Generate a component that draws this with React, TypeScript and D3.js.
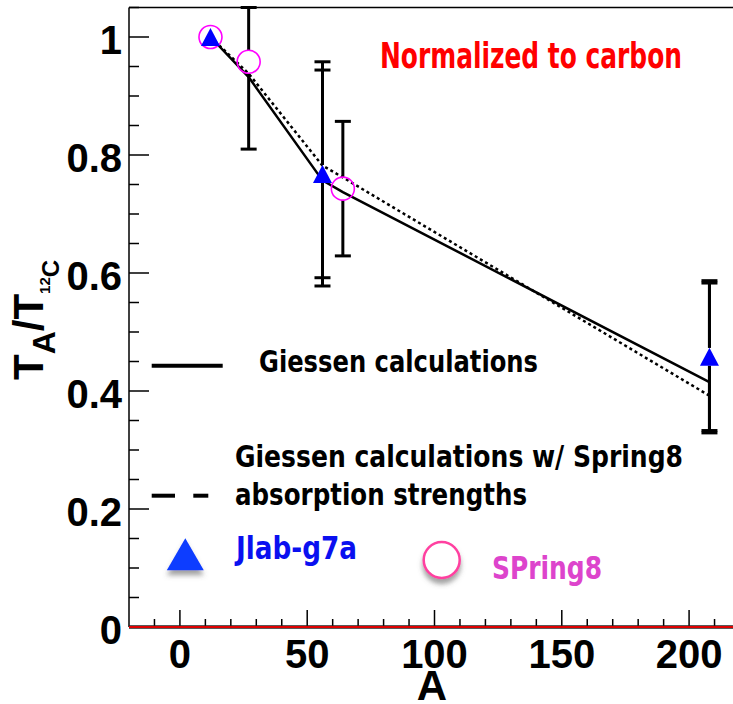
import React from "react";
import * as d3 from "d3";

// Transparency ratio T_A / T_12C versus mass number A
const W = 733;
const H = 704;

// Jlab-g7a measurements (filled triangles), two error components each
const jlabA = [12, 56, 208];
const jlabT = [1.0, 0.768, 0.458];
const jlabErrInner = [0, 0.176, 0.125];
const jlabErrOuter = [0, 0.19, 0.129];

// SPring8 measurements (open circles), asymmetric errors
const spring8A = [12, 27, 64];
const spring8T = [1.0, 0.958, 0.743];
const spring8ErrLo = [0, 0.148, 0.114];
const spring8ErrHi = [0, 0.092, 0.114];

// Giessen calculations
const giessenA = [12, 27, 56, 64, 208];
const giessenT = [1.0, 0.932, 0.757, 0.737, 0.415];
const giessenSp8T = [1.0, 0.938, 0.782, 0.762, 0.392];

// Axis ticks
const xMajorTicks = [0, 50, 100, 150, 200];
const yMajorTicks = [0, 0.2, 0.4, 0.6, 0.8, 1];
const yTickLabels = ["0", "0.2", "0.4", "0.6", "0.8", "1"];

const X0 = 129;
const X1 = 740;
const Y0 = 627;
const Y1 = 7.5;

const x = d3.scaleLinear().domain([-20, 220]).range([X0, X1]);
const y = d3.scaleLinear().domain([0, 1.05]).range([Y0, Y1]);

const AXIS_FONT = "'Liberation Sans', Arial, Helvetica, sans-serif";
const HAND_FONT = "'DejaVu Sans Condensed', 'Liberation Sans Narrow', 'DejaVu Sans', sans-serif";

function ErrorBar({ cx, cy, lo, hi, gap }: { cx: number; cy: number; lo: number; hi: number; gap: number }) {
  const yTop = y(Math.min(hi, 1.05));
  const yBot = y(Math.max(lo, 0));
  return (
    <g stroke="#000" strokeWidth={3}>
      {yTop < cy - gap && <line x1={cx} x2={cx} y1={yTop} y2={cy - gap} />}
      {yBot > cy + gap && <line x1={cx} x2={cx} y1={cy + gap} y2={yBot} />}
      <line x1={cx - 8} x2={cx + 8} y1={yTop} y2={yTop} />
      <line x1={cx - 8} x2={cx + 8} y1={yBot} y2={yBot} />
    </g>
  );
}

function triPath(cx: number, cy: number, w: number, h: number) {
  return `M${cx - w / 2},${cy + h / 2}L${cx + w / 2},${cy + h / 2}L${cx},${cy - h / 2}Z`;
}

export default function App() {
  const lineGen = d3
    .line<[number, number]>()
    .x((d) => x(d[0]))
    .y((d) => y(d[1]));

  const solidPts = giessenA.map((a, i) => [a, giessenT[i]] as [number, number]);
  const dottedPts = giessenA.map((a, i) => [a, giessenSp8T[i]] as [number, number]);

  const xMinor = d3.range(-10, 221, 10).filter((v) => v % 50 !== 0);
  const yMinor = d3.range(0.05, 1.051, 0.05).filter((v) => Math.abs(v / 0.2 - Math.round(v / 0.2)) > 1e-6);

  return (
    <svg
      width={W}
      height={H}
      viewBox={`0 0 ${W} ${H}`}
      style={{ position: "absolute", left: 0, top: 0, background: "#fff" }}
    >
      <defs>
        <filter id="shadow" x="-50%" y="-50%" width="200%" height="220%">
          <feDropShadow dx="0" dy="5" stdDeviation="2.5" floodColor="#555" floodOpacity="0.55" />
        </filter>
      </defs>
      <rect x={0} y={0} width={W} height={H} fill="#fff" />

      {/* frame */}
      <line x1={X0} x2={X0} y1={Y1} y2={Y0} stroke="#000" strokeWidth={1.5} />
      <line x1={X0} x2={X1} y1={Y1} y2={Y1} stroke="#000" strokeWidth={1.5} />

      {/* y ticks */}
      <g stroke="#000" strokeWidth={1.5}>
        {yMajorTicks.map((v) => (
          <line key={"ym" + v} x1={X0} x2={X0 + 20} y1={y(v)} y2={y(v)} />
        ))}
        {yMinor.map((v) => (
          <line key={"yn" + v} x1={X0} x2={X0 + 10} y1={y(v)} y2={y(v)} />
        ))}
      </g>
      <g fontFamily={AXIS_FONT} fontWeight="bold" fontSize={40} textAnchor="end">
        {yMajorTicks.map((v, i) => (
          <text key={"yl" + v} x={122} y={y(v) + 17}>
            {yTickLabels[i]}
          </text>
        ))}
      </g>

      {/* x ticks */}
      <g stroke="#000" strokeWidth={1.5}>
        {xMajorTicks.map((v) => (
          <line key={"xm" + v} x1={x(v)} x2={x(v)} y1={Y0} y2={Y0 - 17} />
        ))}
        {xMinor.map((v) => (
          <line key={"xn" + v} x1={x(v)} x2={x(v)} y1={Y0} y2={Y0 - 8} />
        ))}
      </g>
      <g fontFamily={AXIS_FONT} fontWeight="bold" fontSize={40} textAnchor="middle">
        {xMajorTicks.map((v) => (
          <text key={"xl" + v} x={x(v)} y={668}>
            {v}
          </text>
        ))}
      </g>

      {/* x = 0 baseline */}
      <line x1={X0} x2={X1} y1={y(0)} y2={y(0)} stroke="#222" strokeWidth={3.5} />
      <line x1={X0} x2={X1} y1={y(0)} y2={y(0)} stroke="#e00000" strokeWidth={2} />

      {/* axis titles */}
      <text x={432} y={700} fontFamily={AXIS_FONT} fontWeight="bold" fontSize={42} textAnchor="middle">
        A
      </text>
      <text transform="translate(43,380) rotate(-90)" fontFamily={AXIS_FONT} fontWeight="bold" fontSize={42}>
        <tspan>T</tspan>
        <tspan fontSize={32} dy={12}>A</tspan>
        <tspan fontSize={42} dy={-12}>/T</tspan>
        <tspan fontSize={15} dy={7}>12</tspan>
        <tspan fontSize={24} dy={9}>C</tspan>
      </text>

      {/* calculations */}
      <path d={lineGen(solidPts) ?? ""} fill="none" stroke="#000" strokeWidth={2.5} />
      <path d={lineGen(dottedPts) ?? ""} fill="none" stroke="#000" strokeWidth={2.5} strokeDasharray="3 3" />

      {/* SPring8 data */}
      {spring8A.map((a, i) =>
        spring8ErrLo[i] > 0 ? (
          <ErrorBar
            key={"se" + i}
            cx={x(a)}
            cy={y(spring8T[i])}
            lo={spring8T[i] - spring8ErrLo[i]}
            hi={spring8T[i] + spring8ErrHi[i]}
            gap={11.5}
          />
        ) : null
      )}
      {spring8A.map((a, i) => (
        <circle key={"sc" + i} cx={x(a)} cy={y(spring8T[i])} r={11.5} fill="none" stroke="#ff00ff" strokeWidth={1.6} />
      ))}

      {/* Jlab-g7a data */}
      {jlabA.map((a, i) =>
        jlabErrOuter[i] > 0 ? (
          <g key={"je" + i}>
            <ErrorBar cx={x(a)} cy={y(jlabT[i])} lo={jlabT[i] - jlabErrOuter[i]} hi={jlabT[i] + jlabErrOuter[i]} gap={9} />
            <ErrorBar cx={x(a)} cy={y(jlabT[i])} lo={jlabT[i] - jlabErrInner[i]} hi={jlabT[i] + jlabErrInner[i]} gap={9} />
          </g>
        ) : null
      )}
      {jlabA.map((a, i) => (
        <path key={"jt" + i} d={triPath(x(a), y(jlabT[i]), 19, 18)} fill="#0000ff" />
      ))}

      {/* annotation */}
      <text x={380} y={68} fontFamily={HAND_FONT} fontWeight="bold" fontSize={36} fill="#ff0000" textLength={302} lengthAdjust="spacingAndGlyphs">
        Normalized to carbon
      </text>

      {/* legend */}
      <line x1={151.7} x2={222.7} y1={365.7} y2={365.7} stroke="#000" strokeWidth={4} />
      <text x={259} y={372} fontFamily={HAND_FONT} fontWeight="bold" fontSize={30} fill="#000" textLength={279} lengthAdjust="spacingAndGlyphs">
        Giessen calculations
      </text>

      <line x1={151.7} x2={175} y1={495.7} y2={495.7} stroke="#000" strokeWidth={4} />
      <line x1={193.3} x2={208.3} y1={495.7} y2={495.7} stroke="#000" strokeWidth={4} />
      <text x={235} y={467} fontFamily={HAND_FONT} fontWeight="bold" fontSize={30} fill="#000" textLength={448} lengthAdjust="spacingAndGlyphs">
        Giessen calculations w/ Spring8
      </text>
      <text x={235} y={505} fontFamily={HAND_FONT} fontWeight="bold" fontSize={30} fill="#000" textLength={292} lengthAdjust="spacingAndGlyphs">
        absorption strengths
      </text>

      <path d={triPath(185.3, 554.2, 37, 32)} fill="#0a3cff" filter="url(#shadow)" />
      <text x={236} y={559} fontFamily={HAND_FONT} fontWeight="bold" fontSize={32} fill="#0a10f0" textLength={121} lengthAdjust="spacingAndGlyphs">
        Jlab-g7a
      </text>

      <circle cx={441.7} cy={560} r={18} fill="#fff" stroke="#ff3fa0" strokeWidth={2.5} filter="url(#shadow)" />
      <text x={492} y={579} fontFamily={HAND_FONT} fontWeight="bold" fontSize={32} fill="#dd44cc" textLength={110} lengthAdjust="spacingAndGlyphs">
        SPring8
      </text>
    </svg>
  );
}
